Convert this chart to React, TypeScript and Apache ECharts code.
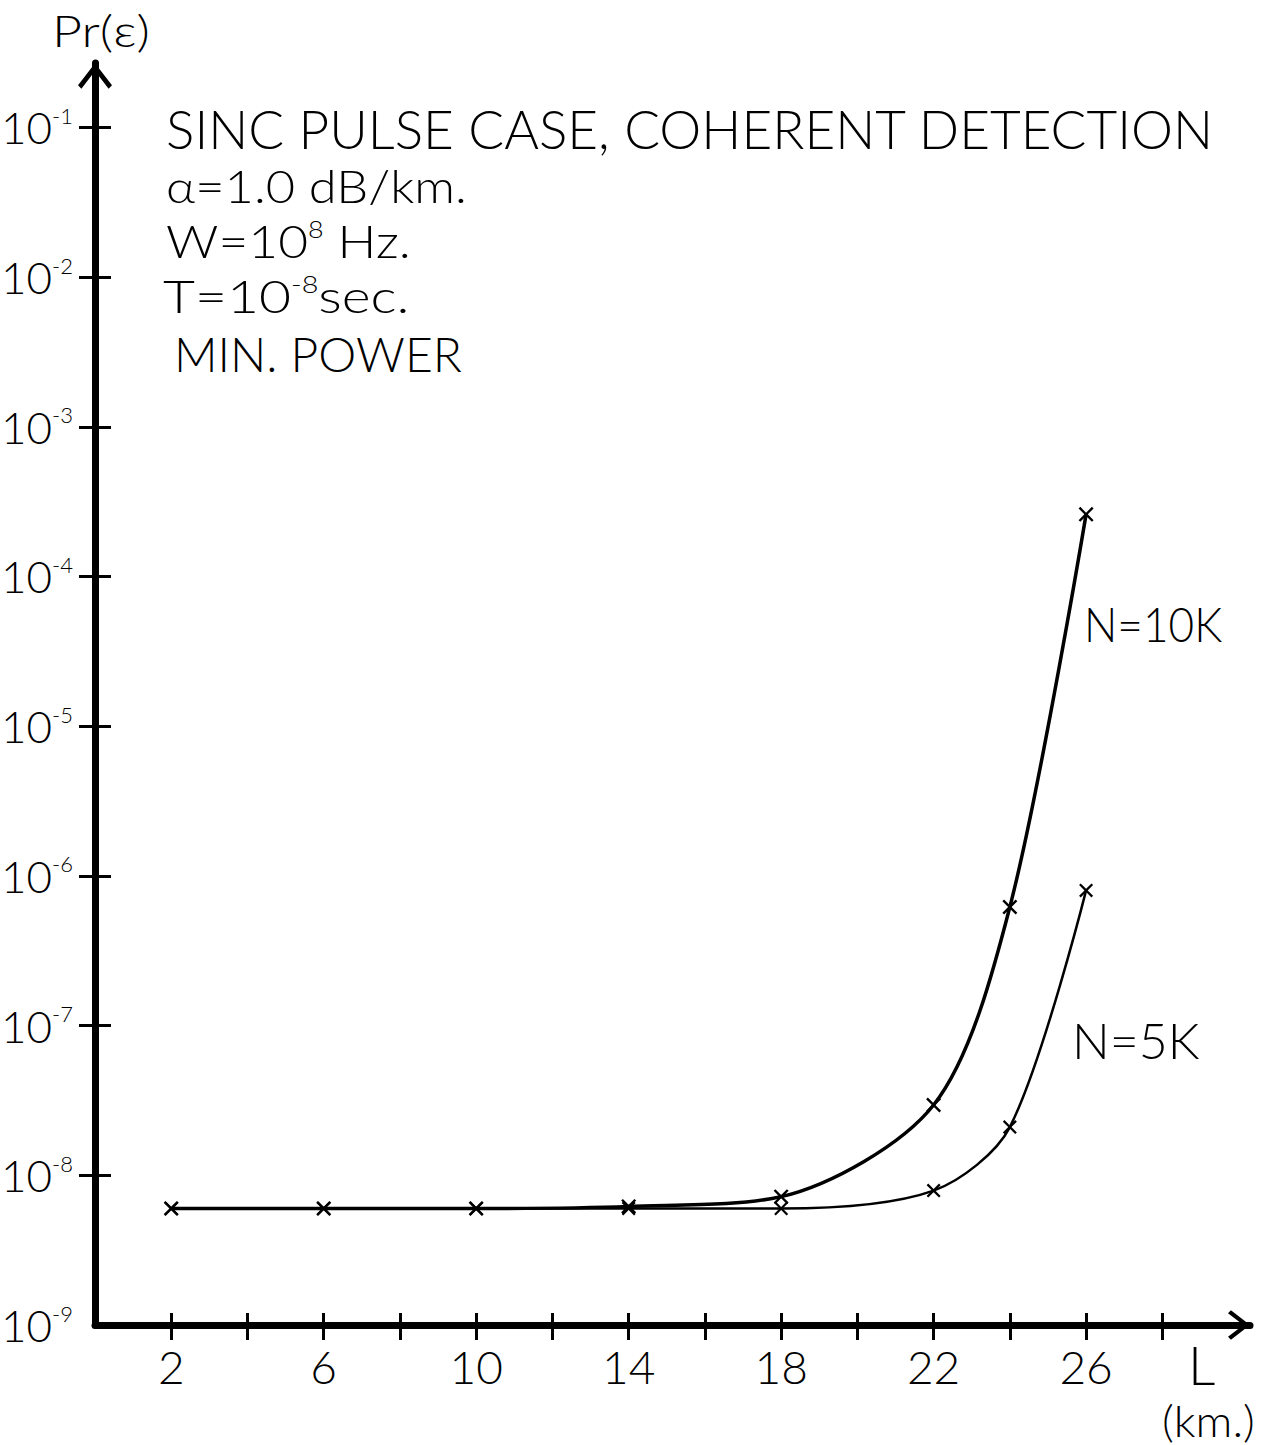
import React, { useEffect, useRef } from "react";
import * as echarts from "echarts";

// ---- data ----
const distancesKm = [2, 6, 10, 14, 18, 22, 24, 26];
const errorN10K = [6.0e-9, 6.0e-9, 6.0e-9, 6.2e-9, 7.2e-9, 2.95e-8, 6.2e-7, 2.6e-4];
const errorN5K = [6.0e-9, 6.0e-9, 6.0e-9, 6.0e-9, 6.0e-9, 7.9e-9, 2.1e-8, 8.0e-7];
const yTickExponents = [-9, -8, -7, -6, -5, -4, -3, -2, -1];
const xTickValues = [2, 4, 6, 8, 10, 12, 14, 16, 18, 20, 22, 24, 26, 28];
const xLabelValues = [2, 6, 10, 14, 18, 22, 26];

const FONT = "Lato";
const WEIGHT = 300;
const INK = "#000";
const X_MIN = 0;
const X_MAX = 30.3;
const Y_MIN = -9;
const Y_MAX = -0.57;

const crossSymbol =
  "path://M0,1.6L1.6,0L7,5.4L12.4,0L14,1.6L8.6,7L14,12.4L12.4,14L7,8.6L1.6,14L0,12.4L5.4,7Z";
const chevron = "path://M20,0L40,26L36,30L20,9L4,30L0,26Z";

const toPairs = (xs: number[], ys: number[]) => xs.map((x, i) => [x, Math.log10(ys[i])]);

const tickStyle = { color: INK, width: 3 };

function buildOption(): any {
  return {
    animation: false,
    backgroundColor: "#fff",
    grid: { left: 95, right: 24, top: 63, bottom: 120, containLabel: false, outerBoundsMode: "none" },
    xAxis: [
      {
        type: "value",
        min: X_MIN,
        max: X_MAX,
        position: "bottom",
        axisLine: {
          show: true,
          onZero: false,
          lineStyle: { color: INK, width: 7 },
          symbol: ["none", chevron],
          symbolSize: [30, 22],
          symbolOffset: [0, -11],
        },
        axisTick: { show: true, inside: false, length: 15, lineStyle: tickStyle, customValues: xTickValues },
        axisLabel: {
          show: true,
          margin: 18,
          fontSize: 46,
          fontFamily: FONT,
          fontWeight: WEIGHT,
          color: INK,
          customValues: xLabelValues,
        },
        splitLine: { show: false },
      },
      {
        type: "value",
        min: X_MIN,
        max: X_MAX,
        position: "bottom",
        axisLine: { show: false, onZero: false },
        axisTick: { show: true, inside: true, length: 12, lineStyle: tickStyle, customValues: xTickValues },
        axisLabel: { show: false },
        splitLine: { show: false },
      },
    ],
    yAxis: [
      {
        type: "value",
        min: Y_MIN,
        max: Y_MAX,
        position: "left",
        axisLine: {
          show: true,
          onZero: false,
          lineStyle: { color: INK, width: 7 },
          symbol: ["none", chevron],
          symbolSize: [34, 26],
          symbolOffset: [0, -13],
        },
        axisTick: { show: true, inside: false, length: 16, lineStyle: tickStyle, customValues: yTickExponents.slice(1) },
        axisLabel: {
          show: true,
          margin: 22,
          color: INK,
          customValues: yTickExponents,
          formatter: (v: number) => `{b|10}{s|-${Math.abs(Math.round(v))}}`,
          rich: {
            b: { fontSize: 44, lineHeight: 46, fontFamily: FONT, fontWeight: WEIGHT, color: INK },
            s: { fontSize: 22, lineHeight: 22, fontFamily: FONT, fontWeight: WEIGHT, color: INK, verticalAlign: "top" },
          },
        },
        splitLine: { show: false },
      },
      {
        type: "value",
        min: Y_MIN,
        max: Y_MAX,
        position: "left",
        axisLine: { show: false, onZero: false },
        axisTick: { show: true, inside: true, length: 16, lineStyle: tickStyle, customValues: yTickExponents.slice(1) },
        axisLabel: { show: false },
        splitLine: { show: false },
      },
    ],
    series: [
      {
        type: "line",
        name: "N=10K",
        data: toPairs(distancesKm, errorN10K),
        smooth: 0.3,
        symbol: crossSymbol,
        symbolSize: 15,
        showSymbol: true,
        lineStyle: { color: INK, width: 3.5 },
        itemStyle: { color: INK },
        z: 3,
      },
      {
        type: "line",
        name: "N=5K",
        data: toPairs(distancesKm, errorN5K),
        smooth: 0.3,
        symbol: crossSymbol,
        symbolSize: 14,
        showSymbol: true,
        lineStyle: { color: INK, width: 2.5 },
        itemStyle: { color: INK },
        z: 3,
      },
    ],
    graphic: [
      txt("Pr(ε)", 52, 30, 44, 1.18),
      txt("SINC PULSE CASE, COHERENT DETECTION", 166, 128, 54, 0.983),
      txt("α=1.0 dB/km.", 166, 185, 46, 1.1),
      richTxt("{a|W=10}{s|8}{a| Hz.}", 166, 240, 1.12),
      richTxt("{a|T=10}{s|-8}{a|sec.}", 163, 295, 1.2),
      txt("MIN. POWER", 174, 353, 48),
      txt("N=10K", 1084, 623, 48, 0.92),
      txt("N=5K", 1072, 1040, 50),
      txt("L", 1188, 1364, 54),
      txt("(km.)", 1162, 1420, 44, 1.04),
    ],
  };
}

function txt(text: string, x: number, y: number, size: number, scaleX = 1) {
  return {
    type: "text",
    x,
    y,
    scaleX,
    style: {
      text,
      fontSize: size,
      fontFamily: FONT,
      fontWeight: WEIGHT,
      fill: INK,
      align: "left",
      verticalAlign: "middle",
    },
  };
}

function richTxt(text: string, x: number, y: number, scaleX = 1) {
  return {
    type: "text",
    x,
    y,
    scaleX,
    style: {
      text,
      fill: INK,
      align: "left",
      verticalAlign: "middle",
      rich: {
        a: { fontSize: 46, lineHeight: 46, fontFamily: FONT, fontWeight: WEIGHT, fill: INK },
        s: { fontSize: 24, lineHeight: 24, fontFamily: FONT, fontWeight: WEIGHT, fill: INK, verticalAlign: "top" },
      },
    },
  };
}

export default function App() {
  const ref = useRef<HTMLDivElement>(null);
  useEffect(() => {
    document.body.style.margin = "0";
    document.body.style.overflow = "hidden";
    const chart = echarts.init(ref.current!, null, { renderer: "svg" });
    chart.setOption(buildOption());
    return () => chart.dispose();
  }, []);
  return <div ref={ref} style={{ width: 1274, height: 1445 }} />;
}
